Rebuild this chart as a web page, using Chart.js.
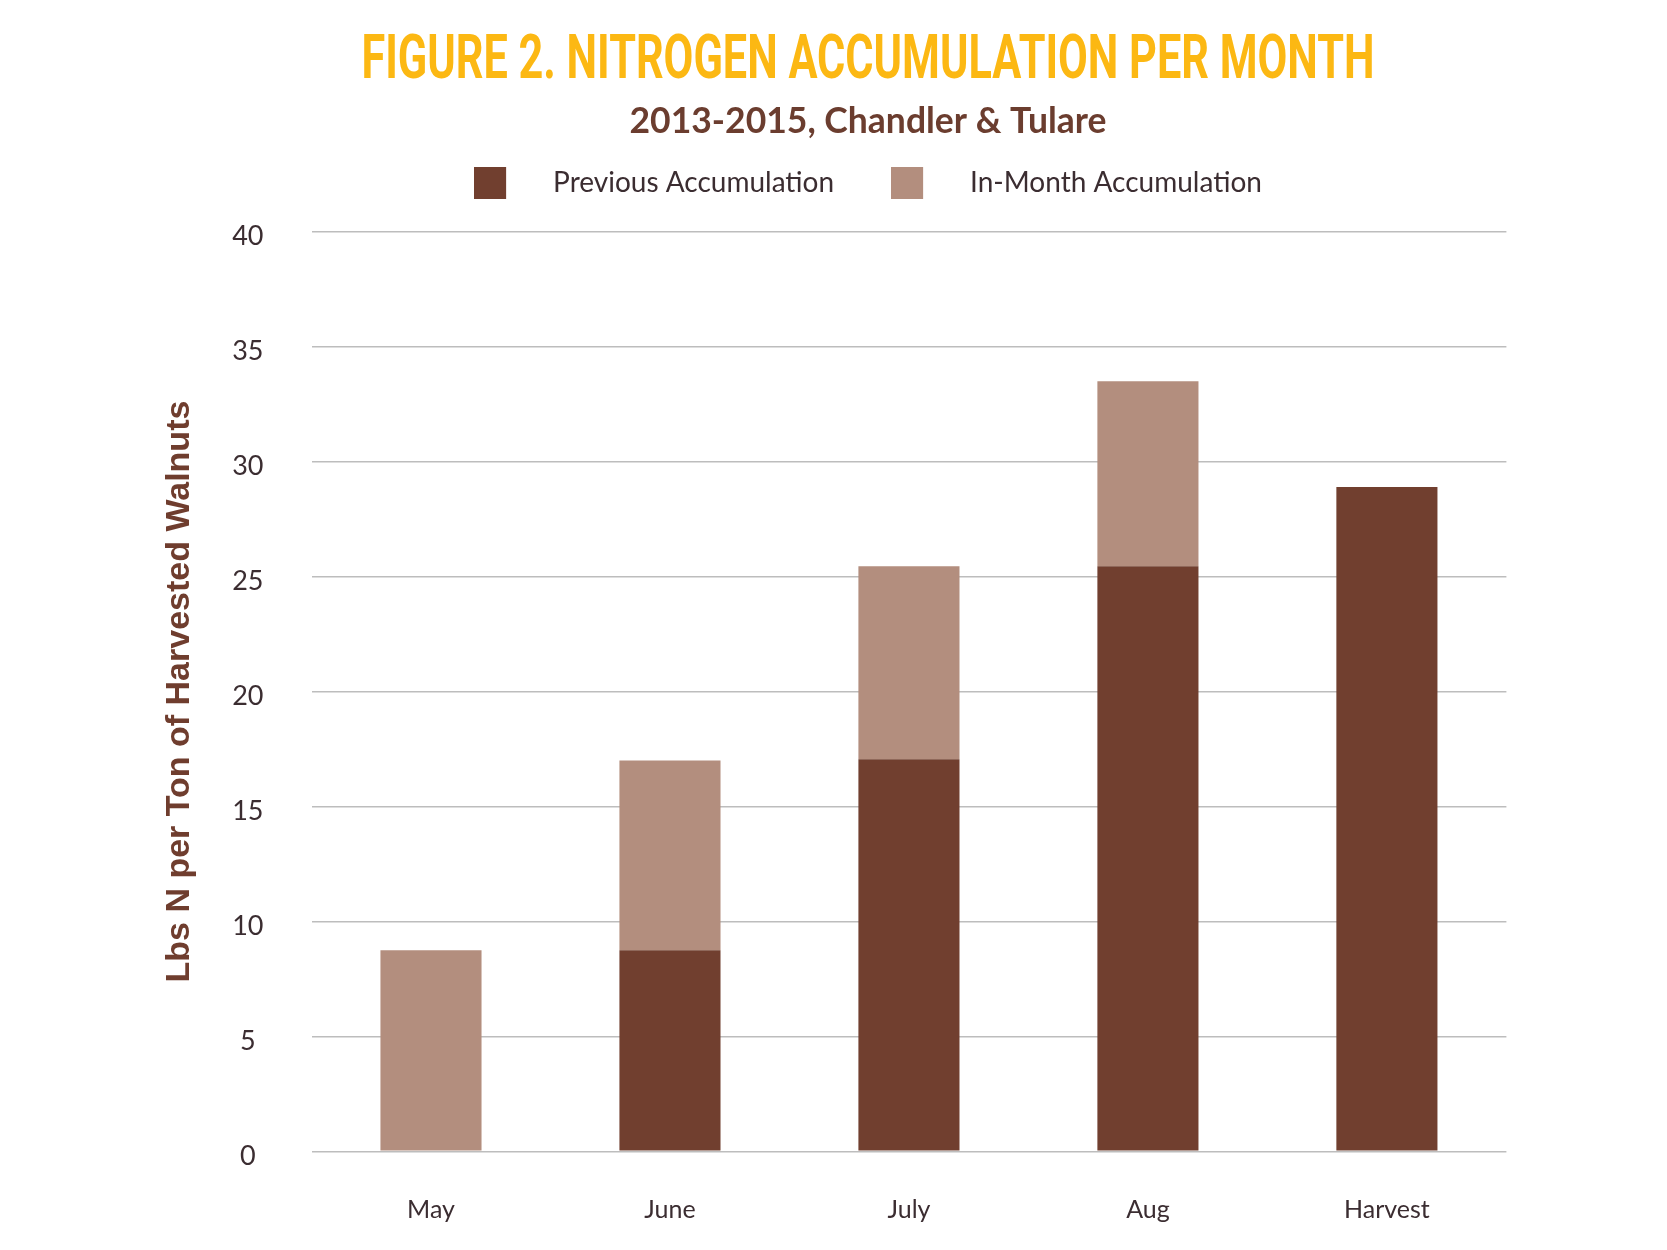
<!DOCTYPE html>
<html>
<head>
<meta charset="utf-8">
<title>Nitrogen Accumulation per Month</title>
<script src="https://cdn.jsdelivr.net/npm/chart.js@4.4.1/dist/chart.umd.min.js"></script>
<style>
  html, body { margin: 0; padding: 0; background: #fff; }
  .chart-box { width: 1667px; height: 1250px; }
</style>
</head>
<body>
<div class="chart-box"><canvas id="nitrogenChart"></canvas></div>
<script>
// values (lbs N per ton of harvested walnuts)
const months = ['May', 'June', 'July', 'Aug', 'Harvest'];
const previousAccumulation = [0, 8.75, 17.05, 25.45, 28.9];
const inMonthAccumulation = [8.75, 8.25, 8.4, 8.05, 0];
const seriesNames = ['Previous Accumulation', 'In-Month Accumulation'];
const yMin = 0;
const yMax = 40;
const yStep = 5;

const darkBrown = '#713f2f';
const lightBrown = '#b38e7e';
const textGrey = '#3b2d31';

// legend swatch: 32px square plus transparent room before the label
const swatchW = 65;
const swatchSize = 32;
function makeSwatch(color) {
    const c = document.createElement('canvas');
    c.width = swatchW;
    c.height = swatchSize;
    const g = c.getContext('2d');
    g.fillStyle = color;
    g.fillRect(0, 0, swatchSize, swatchSize);
    return c;
}

// the heading in the original uses a condensed face, squeeze the title horizontally
const titleWidth = 1013;
const condensedTitle = {
    id: 'condensedTitle',
    beforeDraw(chart) {
        const tb = chart.titleBlock;
        if (!tb || tb._condensed) return;
        const origDraw = tb.draw.bind(tb);
        tb.draw = function () {
            const c = chart.ctx;
            c.save();
            c.font = Chart.helpers.toFont(tb.options.font).string;
            const sx = titleWidth / c.measureText(tb.options.text).width;
            const cx = (tb.left + tb.right) / 2;
            c.translate(cx, 0);
            c.scale(sx, 1);
            c.translate(-cx, 0);
            origDraw();
            c.restore();
        };
        tb._condensed = true;
    }
};

const ctx = document.getElementById('nitrogenChart').getContext('2d');

new Chart(ctx, {
    type: 'bar',
    data: {
        labels: months,
        datasets: [{
            label: seriesNames[0],
            data: previousAccumulation,
            backgroundColor: darkBrown,
            borderWidth: 0,
            barPercentage: 0.423,
            categoryPercentage: 1.0
        }, {
            label: seriesNames[1],
            data: inMonthAccumulation,
            backgroundColor: lightBrown,
            borderWidth: 0,
            barPercentage: 0.423,
            categoryPercentage: 1.0
        }]
    },
    options: {
        responsive: true,
        maintainAspectRatio: false,
        animation: false,
        layout: {
            padding: { left: 69, right: 0, top: 0, bottom: 26.7 }
        },
        plugins: {
            title: {
                display: true,
                text: 'FIGURE 2. NITROGEN ACCUMULATION PER MONTH',
                color: '#fcb813',
                font: { family: 'Roboto, sans-serif', size: 62, weight: 'bold', lineHeight: 1.2 },
                padding: { top: 25.6, bottom: 0 }
            },
            subtitle: {
                display: true,
                text: '2013-2015, Chandler & Tulare',
                color: '#6b3d2f',
                font: { family: 'Lato, sans-serif', size: 35.5, weight: 'bold', lineHeight: 1.2 },
                padding: { top: 0, bottom: -31 }
            },
            legend: {
                display: true,
                position: 'top',
                labels: {
                    color: textGrey,
                    font: { family: 'Lato, sans-serif', size: 28 },
                    usePointStyle: true,
                    pointStyleWidth: swatchW,
                    padding: 57,
                    generateLabels: function (chart) {
                        const items = Chart.defaults.plugins.legend.labels.generateLabels(chart);
                        items.forEach(function (item, i) {
                            item.pointStyle = makeSwatch(chart.data.datasets[i].backgroundColor);
                        });
                        return items;
                    }
                }
            },
            tooltip: { enabled: false }
        },
        scales: {
            x: {
                stacked: true,
                grid: { display: false, drawTicks: false },
                border: { display: false },
                ticks: {
                    color: textGrey,
                    font: { family: 'Lato, sans-serif', size: 25 },
                    padding: 44
                },
                afterFit: function (scale) { scale.height = 72; }
            },
            y: {
                stacked: true,
                min: yMin,
                max: yMax,
                grid: { color: '#bdbdbd', lineWidth: 1.5, drawTicks: false },
                border: { display: false },
                ticks: {
                    stepSize: yStep,
                    color: textGrey,
                    font: { family: 'Lato, sans-serif', size: 27 },
                    crossAlign: 'center',
                    padding: 48,
                    labelOffset: 4.5
                },
                title: {
                    display: true,
                    text: 'Lbs N per Ton of Harvested Walnuts',
                    color: '#6f3d2e',
                    font: { family: "'Liberation Sans', Arial, sans-serif", size: 34, weight: 'bold', lineHeight: 1.2 },
                    padding: { top: 90, bottom: 0 }
                },
                afterFit: function (scale) { scale.width = 242.5; }
            },
            // empty spacers: room under the legend and on the right, as in the original
            spacerTop: {
                type: 'linear',
                axis: 'x',
                position: 'top',
                display: true,
                grid: { display: false },
                border: { display: false },
                ticks: { display: false },
                afterFit: function (scale) { scale.height = 25.2; }
            },
            spacerRight: {
                type: 'linear',
                axis: 'y',
                position: 'right',
                display: true,
                grid: { display: false },
                border: { display: false },
                ticks: { display: false },
                afterFit: function (scale) { scale.width = 160.6; }
            }
        }
    },
    plugins: [condensedTitle]
});
</script>
</body>
</html>
